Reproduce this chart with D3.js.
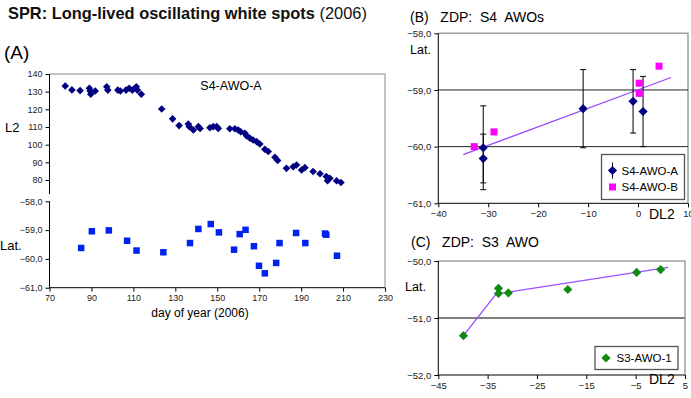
<!DOCTYPE html>
<html>
<head>
<meta charset="utf-8">
<style>
  body { margin: 0; background: #fff; }
  svg { font-family: "Liberation Sans", Arial, sans-serif; }
  .tick text { fill: #222; }
</style>
</head>
<body>
<script src="https://cdn.jsdelivr.net/npm/d3@7"></script>
<script>
// ---------- data ----------
// (A) S4-AWO-A : day of year vs L2
var l2Days = [77.5,80.7,84.6,89,89.4,89.7,91.8,97.3,97.8,102.6,103.8,106.5,108,109.5,111.4,111.9,113.8,
  123.5,128.7,131.8,136.2,136.7,138.6,141,141.8,146.5,148.1,149.7,150.5,156,158.4,160,161.2,163.2,164,
  165.6,167.1,168.8,170.3,172.7,174.3,177.5,178.8,183,186.2,187.8,190.2,191.8,195.7,199,202,202.6,203.7,206.9,209];
var l2Vals = [133.2,131,130.6,131.9,130.4,128.5,130.4,132.8,130.9,130.9,130.4,130.9,131.9,130.9,132.8,130.9,128.5,
  120.2,114.6,110.8,111.7,110.2,108.3,110.2,109.2,109.6,110.2,110.2,109.2,109,109,108.3,107.3,106.4,105,
  103.6,102.6,101.7,100.4,97.4,96.1,92.9,91,86.6,87.5,88.5,85.7,87,84.8,83.5,82,79.6,81,79.6,78.6];
// (A) latitude vs day of year
var latDays = [85.1,90.2,98.3,107,111.5,124.3,137,141,146.9,150.8,158,160.7,163.5,167.5,169.9,172.7,178.1,179.7,187.6,192,201.4,202,207.1];
var latVals = [-59.62,-59.04,-59.01,-59.37,-59.71,-59.77,-59.45,-58.96,-58.79,-59.08,-59.68,-59.14,-58.99,-59.56,-60.24,-60.5,-60.14,-59.45,-59.1,-59.45,-59.12,-59.16,-59.89];

// (B) S4 AWOs : DL2 vs Lat
var awoA_dl2 = [-31,-31,-11,-1,1];
var awoA_lat = [-60.02,-60.21,-59.33,-59.2,-59.38];
var awoA_err = [0.74,0.43,0.69,0.56,0.62];
var awoB_dl2 = [-32.8,-28.85,0.22,0.22,4.2];
var awoB_lat = [-60.0,-59.74,-58.88,-59.06,-58.58];
var trendB_dl2 = [-35,6.6];
var trendB_lat = [-60.14,-58.78];

// (C) S3 AWO
var awo1_dl2 = [-39.9,-32.8,-32.8,-30.8,-18.75,-4.8,0.06];
var awo1_lat = [-51.31,-50.48,-50.57,-50.56,-50.5,-50.2,-50.15];
var trendC_dl2 = [-39.9,-33.3,1.6];
var trendC_lat = [-51.31,-50.58,-50.11];

// tick labels
var dayTicks = [70,90,110,130,150,170,190,210,230];
var l2Ticks = [80,90,100,110,120,130,140];
var latTicksA = [-61,-60,-59,-58];
var dlTicksB = [-40,-30,-20,-10,0,10];
var latTicksB = [-61,-60,-59,-58];
var dlTicksC = [-45,-35,-25,-15,-5,5];
var latTicksC = [-52,-51,-50];

var comma1 = function(v){ return d3.format(".1f")(v).replace(".", ","); };

var svg = d3.select("body").append("svg")
  .attr("width", 691).attr("height", 398);
svg.append("rect").attr("width", 691).attr("height", 398).attr("fill", "#fff");

function diamond(r){ return "M0," + (-r) + "L" + r + ",0L0," + r + "L" + (-r) + ",0Z"; }

function styleAxis(g, fs){
  g.select(".domain").remove();
  g.selectAll(".tick line").attr("stroke", "#000");
  g.selectAll(".tick text").attr("font-size", fs);
}

// ================= (A) =================
var xA = d3.scaleLinear().domain([70,230]).range([49.5,385]);
var yL2 = d3.scaleLinear().domain([80,140]).range([180,74]);
var yLatA = d3.scaleLinear().domain([-61,-58]).range([287.7,201.3]);

svg.append("text").attr("x", 8).attr("y", 19).attr("font-size", 16.4)
  .html('<tspan font-weight="bold" fill="#111">SPR: Long-lived oscillating white spots</tspan><tspan fill="#111"> (2006)</tspan>');
svg.append("text").attr("x", 4).attr("y", 59).attr("font-size", 19).text("(A)");

// frame
svg.append("path").attr("fill", "none").attr("stroke", "#b0b0b0").attr("stroke-width", 1.5)
  .attr("d", "M" + xA(70) + "," + yL2(140) + "H" + xA(230) + "V" + yLatA(-61));

var gL2 = svg.append("g").attr("transform", "translate(" + xA(70) + ",0)")
  .call(d3.axisLeft(yL2).tickValues(l2Ticks).tickSize(4).tickPadding(3));
styleAxis(gL2, 9);
svg.append("line").attr("x1", xA(70)).attr("x2", xA(70)).attr("y1", yL2(140)).attr("y2", 194).attr("stroke", "#000");

var gLatA = svg.append("g").attr("transform", "translate(" + xA(70) + ",0)")
  .call(d3.axisLeft(yLatA).tickValues(latTicksA).tickFormat(comma1).tickSize(4).tickPadding(3));
styleAxis(gLatA, 9);
svg.append("line").attr("x1", xA(70)).attr("x2", xA(70)).attr("y1", yLatA(-58)).attr("y2", yLatA(-61)).attr("stroke", "#000");

var gXA = svg.append("g").attr("transform", "translate(0," + yLatA(-61) + ")")
  .call(d3.axisBottom(xA).tickValues(dayTicks).tickSize(4).tickPadding(3));
styleAxis(gXA, 9);
svg.append("line").attr("x1", xA(70)).attr("x2", xA(230)).attr("y1", yLatA(-61)).attr("y2", yLatA(-61)).attr("stroke", "#000");

svg.selectAll(".l2pt").data(l2Days).enter().append("path")
  .attr("d", diamond(3.8)).attr("fill", "#000080")
  .attr("transform", function(d, i){ return "translate(" + xA(d) + "," + yL2(l2Vals[i]) + ")"; });

svg.selectAll(".latpt").data(latDays).enter().append("rect")
  .attr("width", 6.5).attr("height", 6.5).attr("fill", "#0022ee")
  .attr("x", function(d){ return xA(d) - 3.25; })
  .attr("y", function(d, i){ return yLatA(latVals[i]) - 3.25; });

svg.append("text").attr("x", 231).attr("y", 90).attr("font-size", 12.5).attr("text-anchor", "middle").text("S4-AWO-A");
svg.append("text").attr("x", 5).attr("y", 132).attr("font-size", 13).text("L2");
svg.append("text").attr("x", 0).attr("y", 250).attr("font-size", 13).text("Lat.");
svg.append("text").attr("x", 200).attr("y", 317).attr("font-size", 12).attr("text-anchor", "middle").text("day of year (2006)");

// ================= (B) =================
var xB = d3.scaleLinear().domain([-40,10]).range([438.3,688]);
var yB = d3.scaleLinear().domain([-61,-58]).range([203.3,33.3]);

svg.append("text").attr("x", 410).attr("y", 22).attr("font-size", 14).attr("xml:space", "preserve")
  .style("white-space", "pre").text("(B)   ZDP:  S4  AWOs");

svg.append("path").attr("fill", "none").attr("stroke", "#a0a0a0").attr("stroke-width", 1.5)
  .attr("d", "M" + xB(-40) + "," + yB(-58) + "H" + xB(10) + "V" + yB(-61));
[-60,-59].forEach(function(v){
  svg.append("line").attr("x1", xB(-40)).attr("x2", xB(10)).attr("y1", yB(v)).attr("y2", yB(v)).attr("stroke", "#222");
});

var gYB = svg.append("g").attr("transform", "translate(" + xB(-40) + ",0)")
  .call(d3.axisLeft(yB).tickValues(latTicksB).tickFormat(comma1).tickSize(4).tickPadding(3));
styleAxis(gYB, 9.5);
var gXB = svg.append("g").attr("transform", "translate(0," + yB(-61) + ")")
  .call(d3.axisBottom(xB).tickValues(dlTicksB).tickSize(4).tickPadding(3));
styleAxis(gXB, 9.5);
svg.append("path").attr("fill", "none").attr("stroke", "#000")
  .attr("d", "M" + xB(-40) + "," + yB(-58) + "V" + yB(-61) + "H" + xB(10));

// trend
svg.append("line").attr("stroke", "#9a4dff").attr("stroke-width", 1.3)
  .attr("x1", xB(trendB_dl2[0])).attr("y1", yB(trendB_lat[0]))
  .attr("x2", xB(trendB_dl2[1])).attr("y2", yB(trendB_lat[1]));

// error bars
awoA_dl2.forEach(function(d, i){
  var x = xB(d), y1 = yB(awoA_lat[i] + awoA_err[i]), y2 = yB(awoA_lat[i] - awoA_err[i]);
  svg.append("path").attr("fill", "none").attr("stroke", "#000").attr("stroke-width", 1)
    .attr("d", "M" + x + "," + y1 + "V" + y2 + "M" + (x - 3) + "," + y1 + "H" + (x + 3) + "M" + (x - 3) + "," + y2 + "H" + (x + 3));
});
svg.selectAll(".ptA").data(awoA_dl2).enter().append("path")
  .attr("d", diamond(4.6)).attr("fill", "#000080")
  .attr("transform", function(d, i){ return "translate(" + xB(d) + "," + yB(awoA_lat[i]) + ")"; });
svg.selectAll(".ptB").data(awoB_dl2).enter().append("rect")
  .attr("width", 7).attr("height", 7).attr("fill", "#ff00ff")
  .attr("x", function(d){ return xB(d) - 3.5; })
  .attr("y", function(d, i){ return yB(awoB_lat[i]) - 3.5; });

svg.append("text").attr("x", 410).attr("y", 54).attr("font-size", 12.5).text("Lat.");
svg.append("text").attr("x", 649).attr("y", 219).attr("font-size", 14).text("DL2");

// legend B
var lgB = svg.append("g").attr("transform", "translate(601.5,154.5)");
lgB.append("rect").attr("width", 83).attr("height", 45).attr("fill", "#fff").attr("stroke", "#555").attr("stroke-width", 1.3);
lgB.append("line").attr("x1", 11).attr("x2", 11).attr("y1", 8).attr("y2", 24).attr("stroke", "#000");
lgB.append("path").attr("d", diamond(4.6)).attr("fill", "#000080").attr("transform", "translate(11,16)");
lgB.append("rect").attr("x", 7.5).attr("y", 29).attr("width", 7).attr("height", 7).attr("fill", "#ff00ff");
lgB.append("text").attr("x", 20).attr("y", 20.5).attr("font-size", 11.5).text("S4-AWO-A");
lgB.append("text").attr("x", 20).attr("y", 36).attr("font-size", 11.5).text("S4-AWO-B");

// ================= (C) =================
var xC = d3.scaleLinear().domain([-45,5]).range([438.3,685]);
var yC = d3.scaleLinear().domain([-52,-50]).range([375,261]);

svg.append("text").attr("x", 411).attr("y", 247).attr("font-size", 14).attr("xml:space", "preserve")
  .style("white-space", "pre").text("(C)   ZDP:  S3  AWO");

svg.append("path").attr("fill", "none").attr("stroke", "#a0a0a0").attr("stroke-width", 1.5)
  .attr("d", "M" + xC(-45) + "," + yC(-50) + "H" + xC(5) + "V" + yC(-52));
svg.append("line").attr("x1", xC(-45)).attr("x2", xC(5)).attr("y1", yC(-51)).attr("y2", yC(-51))
  .attr("stroke", "#808080").attr("stroke-width", 2);

var gYC = svg.append("g").attr("transform", "translate(" + xC(-45) + ",0)")
  .call(d3.axisLeft(yC).tickValues(latTicksC).tickFormat(comma1).tickSize(4).tickPadding(3));
styleAxis(gYC, 9.5);
var gXC = svg.append("g").attr("transform", "translate(0," + yC(-52) + ")")
  .call(d3.axisBottom(xC).tickValues(dlTicksC).tickSize(4).tickPadding(3));
styleAxis(gXC, 9.5);
svg.append("path").attr("fill", "none").attr("stroke", "#000")
  .attr("d", "M" + xC(-45) + "," + yC(-50) + "V" + yC(-52) + "H" + xC(5));

var trendC = d3.line().x(function(d){ return xC(d); }).y(function(d, i){ return yC(trendC_lat[i]); });
svg.append("path").attr("fill", "none").attr("stroke", "#9a4dff").attr("stroke-width", 1.3)
  .attr("d", trendC(trendC_dl2));

svg.selectAll(".ptC").data(awo1_dl2).enter().append("path")
  .attr("d", diamond(4.6)).attr("fill", "#108a10")
  .attr("transform", function(d, i){ return "translate(" + xC(d) + "," + yC(awo1_lat[i]) + ")"; });

svg.append("text").attr("x", 405).attr("y", 291).attr("font-size", 12.5).text("Lat.");
svg.append("text").attr("x", 649).attr("y", 384).attr("font-size", 14).text("DL2");

var lgC = svg.append("g").attr("transform", "translate(595,346.5)");
lgC.append("rect").attr("width", 83).attr("height", 23).attr("fill", "#fff").attr("stroke", "#555").attr("stroke-width", 1.3);
lgC.append("path").attr("d", diamond(4.6)).attr("fill", "#108a10").attr("transform", "translate(11,11.5)");
lgC.append("text").attr("x", 21.5).attr("y", 15.5).attr("font-size", 11.5).text("S3-AWO-1");
</script>
</body>
</html>
